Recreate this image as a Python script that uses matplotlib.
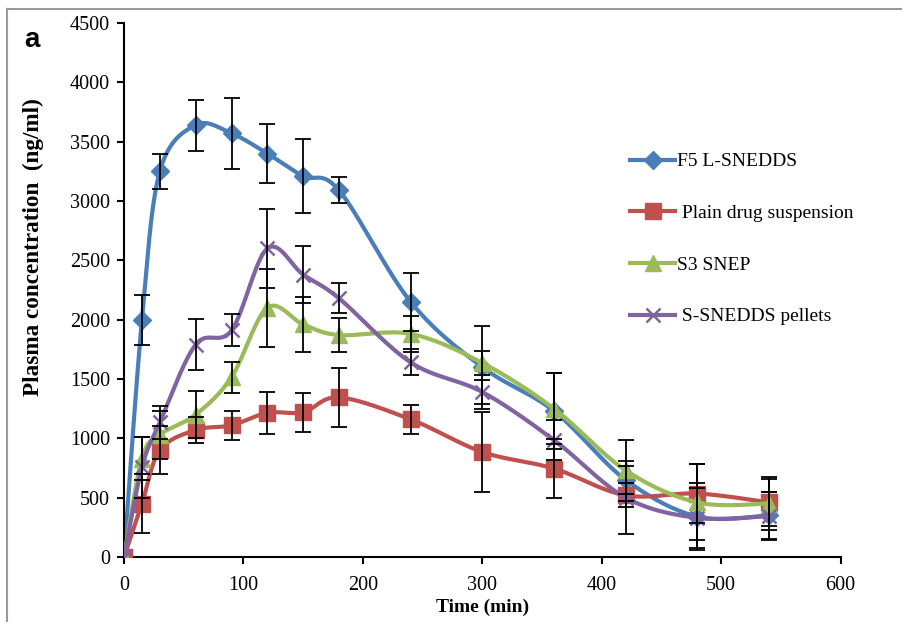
import numpy as np
import matplotlib
matplotlib.use("Agg")
import matplotlib.pyplot as plt
from matplotlib.lines import Line2D

# sampling times (min)
time = [0, 15, 30, 60, 90, 120, 150, 180, 240, 300, 360, 420, 480, 540]

# mean plasma concentration (ng/ml) and error bars
f5_mean = [0, 2000, 3250, 3640, 3570, 3400, 3210, 3090, 2150, 1600, 1230, 650, 340, 350]
f5_err = [0, 210, 150, 215, 300, 245, 310, 110, 245, 350, 320, 120, 280, 200]

plain_mean = [0, 450, 900, 1070, 1110, 1215, 1220, 1345, 1160, 885, 745, 520, 535, 460]
plain_err = [0, 250, 200, 110, 120, 175, 165, 250, 125, 340, 250, 100, 250, 200]

s3_mean = [0, 830, 1030, 1200, 1515, 2100, 1960, 1870, 1880, 1635, 1250, 730, 460, 450]
s3_err = [0, 180, 200, 200, 130, 330, 230, 140, 150, 100, 300, 260, 320, 220]

pellet_mean = [0, 755, 1135, 1790, 1910, 2600, 2380, 2180, 1640, 1390, 985, 500, 330, 345]
pellet_err = [0, 260, 140, 215, 135, 330, 240, 125, 110, 100, 170, 310, 250, 200]

labels = ["F5 L-SNEDDS", " Plain drug suspension", "S3 SNEP", " S-SNEDDS pellets"]
colors = ["#4A7EBB", "#C0504D", "#9BBB59", "#8064A2"]
markers = ["D", "s", "^", "x"]
msizes = [9, 11, 11, 10]


def smooth(x, y, n=20):
    """Excel-like smoothed line (Catmull-Rom drawn as cubic Bezier)"""
    p = np.column_stack([x, y]).astype(float)
    p = np.vstack([p[0], p, p[-1]])
    out = []
    t = np.linspace(0, 1, n)[:, None]
    for i in range(1, len(p) - 2):
        a, b = p[i], p[i + 1]
        c1 = a + (p[i + 1] - p[i - 1]) / 6
        c2 = b - (p[i + 2] - p[i]) / 6
        seg = (1 - t) ** 3 * a + 3 * (1 - t) ** 2 * t * c1 + 3 * (1 - t) * t ** 2 * c2 + t ** 3 * b
        out.append(seg)
    out = np.vstack(out)
    return out[:, 0], out[:, 1]


plt.rcParams['font.family'] = ['Liberation Serif', 'DejaVu Serif']

fig = plt.figure(figsize=(9.02, 6.22), dpi=100)
ax = fig.add_axes([0.1375, 0.1045, 0.7945, 0.8585])

series = [(f5_mean, f5_err), (plain_mean, plain_err), (s3_mean, s3_err), (pellet_mean, pellet_err)]
handles = []
for k, (m, e) in enumerate(series):
    sx, sy = smooth(time, m)
    ax.plot(sx, sy, color=colors[k], lw=3, zorder=2 + k, solid_capstyle='round')
    mew = 1.8 if markers[k] == "x" else 1
    ax.plot(time, m, ls='none', marker=markers[k], ms=msizes[k], mew=mew, color=colors[k], zorder=2 + k)
    ax.errorbar(time[1:], m[1:], yerr=e[1:], fmt='none', ecolor='black', elinewidth=1.3,
                capsize=6, capthick=1.3, zorder=10)
    h = Line2D([], [], color=colors[k], lw=3, marker=markers[k], ms=msizes[k], mew=mew)
    handles.append(h)

ax.set_xlim(0, 600)
ax.set_ylim(0, 4500)
ax.set_xticks(range(0, 601, 100))
ax.set_yticks(range(0, 4501, 500))
for s in ["top", "right"]:
    ax.spines[s].set_visible(False)
for s in ["left", "bottom"]:
    ax.spines[s].set_linewidth(1.5)
ax.tick_params(direction='out', length=5, width=1.5, labelsize=14.5)
ax.tick_params(axis='x', pad=9)
ax.tick_params(axis='y', pad=5)

ax.set_xlabel("Time (min)", fontsize=14, fontweight='bold', labelpad=2)
ax.set_ylabel("Plasma concentration  (ng/ml)", fontsize=16.7, fontweight='bold')
ax.yaxis.set_label_coords(-0.112, 0.58)

fig.legend(handles=handles, labels=labels, loc='upper left', bbox_to_anchor=(0.688, 0.77),
           frameon=False, fontsize=14, handlelength=2.3, handletextpad=0.1,
           labelspacing=1.75, borderpad=0)

fig.text(0.027, 0.925, "a", fontsize=20, fontweight='bold', family='Liberation Sans')

# outer chart border (only top and left are visible in the crop)
fig.add_artist(Line2D([0.008, 0.008], [0, 0.985], color='#9a9a9a', lw=1.5, transform=fig.transFigure))
fig.add_artist(Line2D([0.008, 1.0], [0.985, 0.985], color='#9a9a9a', lw=1.5, transform=fig.transFigure))

fig.savefig("out.png", dpi=100)
